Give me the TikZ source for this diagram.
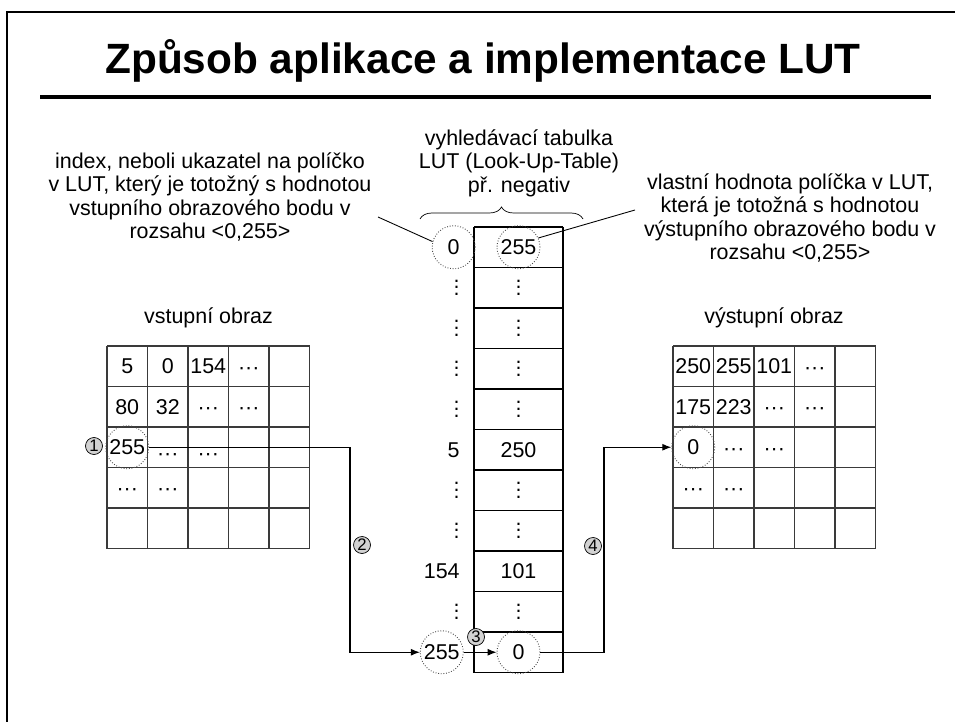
\documentclass[tikz,border=0pt]{standalone}
\usepackage{fontspec}
\setmainfont{Liberation Sans}
\usepackage{tikz}
\usetikzlibrary{arrows.meta, positioning, calc, decorations.pathreplacing}
\definecolor{gline}{HTML}{3A3A3A}
\definecolor{ringc}{HTML}{4A4A4A}
\definecolor{badgefill}{HTML}{D2D2D2}
\newcommand{\hdt}{\raisebox{-0.38em}[0pt][0pt]{···}}
\newcommand{\hdtlow}{\raisebox{-0.6em}[0pt][0pt]{···}}
\newcommand{\vdt}{\vbox{\baselineskip3.8pt\lineskiplimit0pt\hbox{.}\hbox{.}\hbox{.}}}
\tikzset{
  >=Latex,
  txt/.style={font=\fontsize{12.2pt}{13.4pt}\selectfont, inner sep=0pt},
  note/.style={txt, align=center},
  headline/.style={font=\fontsize{24.1pt}{29pt}\selectfont\bfseries, inner sep=0pt},
  ring/.style={circle, draw=ringc, densely dotted, line width=0.5pt,
    minimum size=0.86cm, inner sep=0pt},
  badge/.style={circle, draw=black, fill=badgefill, line width=0.4pt,
    minimum size=0.34cm, inner sep=0pt, font=\fontsize{9.5pt}{9.5pt}\selectfont},
  link/.style={-{Latex[length=1.8mm,width=1.4mm]}, line width=0.6pt, draw=black},
  gridln/.style={line width=0.7pt, draw=gline}
}
\begin{document}
\begin{tikzpicture}[x=0.02cm, y=-0.02cm]
  \useasboundingbox (0,0) rectangle (955,722);
  % frame and title
  \draw[line width=1.2pt] (7,722) -- (7,12) -- (955,12);
  \node[headline, anchor=base] (head) at (483,74) {Způsob aplikace a implementace LUT};
  \draw[line width=2pt] (40,97) -- (931,97);

  % input and output images
  \foreach \gx in {107,673} {
    \foreach \k in {0,...,5} {
      \draw[gridln] ({\gx+40.5*\k},346) -- ({\gx+40.5*\k},548.5);
      \draw[gridln] (\gx,{346+40.5*\k}) -- ({\gx+202.5},{346+40.5*\k});
    }
  }
  \foreach \c/\r/\t in {0/0/5, 1/0/0, 2/0/154, 3/0/\hdt, 0/1/80, 1/1/32, 2/1/\hdt,
      3/1/\hdt, 0/2/255, 1/2/\hdtlow, 2/2/\hdtlow, 0/3/\hdt, 1/3/\hdt}
    \node[txt] (in-\c-\r) at ({127.25+40.5*\c},{366.25+40.5*\r}) {\t};
  \foreach \c/\r/\t in {0/0/250, 1/0/255, 2/0/101, 3/0/\hdt, 0/1/175, 1/1/223, 2/1/\hdt,
      3/1/\hdt, 0/2/0, 1/2/\hdt, 2/2/\hdt, 0/3/\hdt, 1/3/\hdt}
    \node[txt] (out-\c-\r) at ({693.25+40.5*\c},{366.25+40.5*\r}) {\t};
  \node[txt] (cap-in) at (208.5,318) {vstupní obraz};
  \node[txt] (cap-out) at (774,318) {výstupní obraz};

  % the LUT
  \draw[line width=0.6pt] (474,227) -- (474,672.5);
  \draw[line width=0.6pt] (563,227) -- (563,672.5);
  \foreach \k in {0,...,11}
    \draw[line width=0.6pt] (474,{227+40.5*\k}) -- (563,{227+40.5*\k});
  \foreach \i/\a/\b in {0/0/255, 1/\vdt/\vdt, 2/\vdt/\vdt, 3/\vdt/\vdt, 4/\vdt/\vdt,
      5/5/250, 6/\vdt/\vdt, 7/\vdt/\vdt, 8/154/101, 9/\vdt/\vdt, 10/255/0} {
    \node[txt, anchor=east] (idx-\i) at (460,{247.25+40.5*\i}) {\a};
    \node[txt] (val-\i) at (518.5,{247.25+40.5*\i}) {\b};
  }
  \node[note] (note-lut) at (519,163) {vyhledávací tabulka\\LUT (Look-Up-Table)\\př. negativ};
  \coordinate (braceL) at (420,219);
  \coordinate (braceR) at (583,219);
  \draw[decorate, decoration={brace, amplitude=0.24cm}] (braceL) -- (braceR);

  % dotted rings
  \node[ring] (ring-i0) at (idx-0.center) {};
  \node[ring] (ring-v0) at (val-0) {};
  \node[ring] (ring-i10) at (idx-10.center) {};
  \node[ring] (ring-v10) at (val-10) {};
  \node[ring] (ring-in) at (in-0-2) {};
  \node[ring] (ring-out) at (out-0-2) {};

  % notes
  \node[note] (note-in) at (210,197) {index, neboli ukazatel na políčko\\v LUT, který je totožný s hodnotou\\vstupního obrazového bodu v\\rozsahu <0,255>};
  \node[note] (note-out) at (790,218) {vlastní hodnota políčka v LUT,\\která je totožná s hodnotou\\výstupního obrazového bodu v\\rozsahu <0,255>};
  \coordinate (tipL) at (378,217);
  \coordinate (tipR) at (635,210);
  \draw[line width=0.5pt] (tipL) -- (ring-i0.165);
  \draw[line width=0.5pt] (ring-v0.25) -- (tipR);

  % the steps
  \coordinate (bendL) at (350,0);
  \coordinate (bendR) at (604,0);
  \draw[link] (ring-in.east) -- (ring-in.east -| bendL) |- (ring-i10.west);
  \draw[link] (ring-i10.east) -- (ring-v10.west);
  \draw[link] (ring-v10.east) -- (ring-v10.east -| bendR) |- (ring-out.west);
  \node[badge] (b1) at (94,446) {1};
  \node[badge] (b2) at (362,545) {2};
  \node[badge] (b3) at (476,637) {3};
  \node[badge] (b4) at (593,546) {4};
\end{tikzpicture}
\end{document}
